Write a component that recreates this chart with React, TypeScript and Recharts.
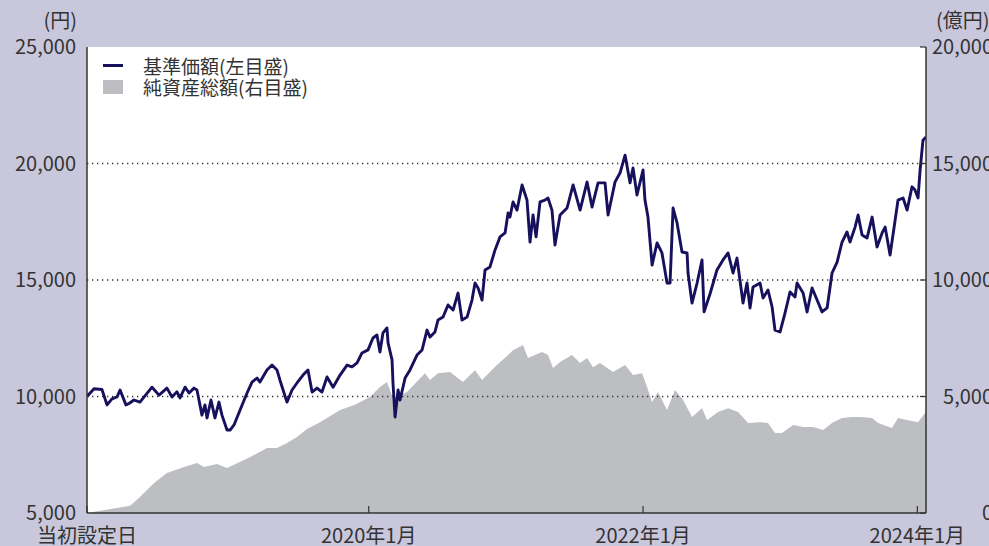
import React from 'react';
import { ComposedChart, Line, Area, XAxis, YAxis, CartesianGrid, ReferenceLine } from 'recharts';

// 基準価額 (円) — dates as decimal years
const navDates = [
  2017.946, 2017.997, 2018.055, 2018.092, 2018.128, 2018.165, 2018.187, 2018.230, 2018.252, 2018.289,
  2018.332, 2018.420, 2018.471, 2018.529, 2018.566, 2018.602, 2018.624, 2018.661, 2018.690, 2018.726,
  2018.748, 2018.784, 2018.806, 2018.821, 2018.850, 2018.879, 2018.908, 2018.930, 2018.967, 2018.989,
  2019.018, 2019.062, 2019.113, 2019.149, 2019.186, 2019.207, 2019.258, 2019.295, 2019.331, 2019.353,
  2019.404, 2019.441, 2019.477, 2019.521, 2019.557, 2019.587, 2019.623, 2019.659, 2019.696, 2019.740,
  2019.791, 2019.842, 2019.878, 2019.915, 2019.951, 2019.995, 2020.031, 2020.060, 2020.082, 2020.104,
  2020.133, 2020.141, 2020.170, 2020.177, 2020.192, 2020.214, 2020.228, 2020.265, 2020.301, 2020.352,
  2020.389, 2020.425, 2020.447, 2020.483, 2020.505, 2020.542, 2020.578, 2020.615, 2020.651, 2020.680,
  2020.717, 2020.753, 2020.775, 2020.797, 2020.826, 2020.848, 2020.884, 2020.921, 2020.957, 2020.994,
  2021.016, 2021.030, 2021.052, 2021.081, 2021.118, 2021.154, 2021.176, 2021.198, 2021.220, 2021.249,
  2021.285, 2021.307, 2021.336, 2021.358, 2021.395, 2021.446, 2021.490, 2021.541, 2021.592, 2021.628,
  2021.672, 2021.723, 2021.745, 2021.796, 2021.832, 2021.869, 2021.905, 2021.927, 2021.956, 2022.000,
  2022.014, 2022.036, 2022.066, 2022.102, 2022.138, 2022.175, 2022.197, 2022.219, 2022.248, 2022.284,
  2022.321, 2022.328, 2022.357, 2022.394, 2022.430, 2022.445, 2022.488, 2022.539, 2022.583, 2022.620,
  2022.656, 2022.685, 2022.729, 2022.758, 2022.780, 2022.802, 2022.853, 2022.875, 2022.911, 2022.941,
  2022.962, 2022.999, 2023.035, 2023.072, 2023.108, 2023.123, 2023.167, 2023.196, 2023.232, 2023.269,
  2023.305, 2023.342, 2023.378, 2023.415, 2023.451, 2023.487, 2023.509, 2023.546, 2023.568, 2023.597,
  2023.633, 2023.670, 2023.706, 2023.743, 2023.765, 2023.801, 2023.838, 2023.859, 2023.896, 2023.925,
  2023.961, 2023.983, 2024.005, 2024.020, 2024.041, 2024.063,
];
const navValues = [
  10000, 10330, 10300, 9640, 9900, 9980, 10280, 9640, 9700, 9850,
  9760, 10400, 10060, 10360, 9980, 10200, 9940, 10400, 10150, 10360,
  10280, 9200, 9640, 9080, 9850, 9080, 9760, 9200, 8560, 8560,
  8780, 9420, 10150, 10620, 10790, 10620, 11140, 11350, 11140, 10700,
  9760, 10280, 10580, 10920, 11140, 10190, 10360, 10190, 10840, 10400,
  10920, 11350, 11270, 11440, 11870, 12000, 12510, 12640, 11910, 12730,
  12940, 12300, 11570, 10580, 9120, 10280, 9850, 10790, 11140, 11780,
  12000, 12850, 12550, 12770, 13280, 13410, 13930, 13710, 14440, 13280,
  13410, 14140, 14870, 14660, 14140, 15430, 15560, 16290, 16850, 17020,
  17880, 17700, 18350, 18000, 19080, 18430, 16630, 17790, 16850, 18350,
  18430, 18520, 18000, 16500, 17790, 18090, 19080, 18000, 19210, 18130,
  19170, 19170, 17790, 19210, 19590, 20360, 19170, 19810, 18650, 19720,
  18430, 17700, 15640, 16590, 16160, 14870, 14870, 18090, 17450, 16200,
  16160, 15300, 14010, 14870, 15860, 13630, 14400, 15430, 15860, 16160,
  15300, 15940, 14010, 14870, 13800, 14700, 14870, 14230, 14570, 13840,
  12850, 12770, 13580, 14490, 14270, 14870, 14440, 13630, 14660, 14140,
  13630, 13800, 15300, 15770, 16630, 17060, 16630, 17270, 17790, 16930,
  16800, 17700, 16420, 17020, 17270, 16070, 17570, 18430, 18520, 18000,
  19000, 18860, 18520, 19720, 21000, 21140,
];

// 純資産総額 (億円)
const aumDates = [
  2017.946, 2018.260, 2018.332, 2018.435, 2018.529, 2018.653, 2018.748, 2018.799, 2018.894, 2018.967,
  2019.091, 2019.164, 2019.258, 2019.331, 2019.404, 2019.477, 2019.550, 2019.645, 2019.791, 2019.900,
  2020.009, 2020.082, 2020.133, 2020.177, 2020.279, 2020.410, 2020.447, 2020.505, 2020.593, 2020.687,
  2020.775, 2020.826, 2020.884, 2020.935, 2021.016, 2021.052, 2021.125, 2021.161, 2021.212, 2021.264,
  2021.307, 2021.344, 2021.395, 2021.482, 2021.541, 2021.592, 2021.635, 2021.686, 2021.781, 2021.869,
  2021.927, 2021.993, 2022.029, 2022.066, 2022.109, 2022.175, 2022.233, 2022.292, 2022.357, 2022.430,
  2022.467, 2022.547, 2022.620, 2022.693, 2022.766, 2022.853, 2022.911, 2022.962, 2023.013, 2023.094,
  2023.167, 2023.240, 2023.313, 2023.385, 2023.451, 2023.524, 2023.582, 2023.670, 2023.713, 2023.815,
  2023.859, 2023.925, 2024.005, 2024.056, 2024.063,
];
const aumValues = [
  0, 310, 690, 1290, 1720, 1970, 2150, 1970, 2100, 1930,
  2270, 2490, 2790, 2790, 3000, 3260, 3600, 3900, 4420, 4650,
  4980, 5410, 5620, 4930, 5190, 6000, 5710, 6000, 6050, 5620,
  6130, 5710, 6050, 6350, 6780, 6990, 7210, 6650, 6780, 6910,
  6780, 6220, 6480, 6780, 6440, 6650, 6260, 6440, 6050, 6350,
  5920, 6000, 5410, 4760, 5190, 4420, 5280, 4850, 4120, 4500,
  3990, 4330, 4500, 4330, 3860, 3900, 3860, 3430, 3430, 3780,
  3690, 3690, 3560, 3900, 4080, 4120, 4120, 4080, 3860, 3650,
  4080, 3990, 3900, 4290, 4290,
];

const xDomain = [2017.946, 2024.063];
const xTicks = [2017.946, 2020, 2022, 2024];
const xTickLabels = ['当初設定日', '2020年1月', '2022年1月', '2024年1月'];
const leftTicks = [5000, 10000, 15000, 20000, 25000];
const rightTicks = [0, 5000, 10000, 15000, 20000];
const gridValues = [10000, 15000, 20000];
const seriesNames = ['基準価額(左目盛)', '純資産総額(右目盛)'];
const unitLabels = ['(円)', '(億円)'];

const navData = navDates.map((t, i) => ({ t, nav: navValues[i] }));
const aumData = aumDates.map((t, i) => ({ t, aum: aumValues[i] }));

const W = 989;
const H = 546;
const BG = '#c9c7dc';
const NAVY = '#17105c';
const GRAY = '#bdbec2';
const TXT = '#333333';
const FONT = '"Noto Sans CJK JP", "Noto Sans", sans-serif';

const fmt = (v: number) => v.toLocaleString('en-US');

export default function App() {
  return (
    <div style={{ position: 'absolute', left: 0, top: 0, width: W, height: H, background: BG, fontFamily: FONT, color: TXT, overflow: 'hidden' }}>
      <ComposedChart width={W} height={H} margin={{ top: 47, right: 0, bottom: 0, left: 0 }}>
        <CartesianGrid fill="#ffffff" horizontal={false} vertical={false} />
        <XAxis
          xAxisId="b"
          type="number"
          dataKey="t"
          domain={xDomain}
          ticks={xTicks}
          tickFormatter={(v: number) => xTickLabels[xTicks.indexOf(v)] ?? ''}
          height={33}
          tickSize={-7}
          tickMargin={23}
          interval={0}
          allowDataOverflow
          axisLine={{ stroke: TXT, strokeWidth: 1.5 }}
          tickLine={{ stroke: TXT, strokeWidth: 1.2 }}
          tick={{ fill: TXT, fontSize: 20, fontFamily: FONT }}
        />
        <XAxis
          xAxisId="top"
          orientation="top"
          type="number"
          dataKey="t"
          domain={xDomain}
          height={0}
          tick={false}
          tickLine={false}
          allowDataOverflow
          axisLine={{ stroke: TXT, strokeWidth: 1.5 }}
        />
        <YAxis
          yAxisId="left"
          orientation="left"
          width={87}
          domain={[5000, 25000]}
          ticks={leftTicks}
          tickFormatter={fmt}
          tickSize={0}
          tickMargin={11}
          interval={0}
          allowDataOverflow
          axisLine={{ stroke: TXT, strokeWidth: 1.5 }}
          tickLine={false}
          tick={{ fill: TXT, fontSize: 20, fontFamily: FONT }}
        />
        <YAxis
          yAxisId="right"
          orientation="right"
          width={63}
          domain={[0, 20000]}
          ticks={rightTicks}
          tickFormatter={fmt}
          tickSize={-6}
          tickMargin={73}
          interval={0}
          allowDataOverflow
          axisLine={{ stroke: TXT, strokeWidth: 1.5 }}
          tickLine={{ stroke: TXT, strokeWidth: 1.2 }}
          tick={{ fill: TXT, fontSize: 20, fontFamily: FONT, textAnchor: 'end' }}
        />
        <Area
          data={aumData}
          xAxisId="b"
          yAxisId="right"
          dataKey="aum"
          name={seriesNames[1]}
          type="linear"
          stroke="none"
          fill={GRAY}
          fillOpacity={1}
          isAnimationActive={false}
        />
        {gridValues.map((g) => (
          <ReferenceLine key={g} xAxisId="b" yAxisId="left" y={g} stroke={TXT} strokeWidth={1.3} strokeDasharray="1.3 3.7" />
        ))}
        <Line
          data={navData}
          xAxisId="b"
          yAxisId="left"
          dataKey="nav"
          name={seriesNames[0]}
          type="linear"
          stroke={NAVY}
          strokeWidth={2.9}
          strokeLinejoin="round"
          dot={false}
          activeDot={false}
          isAnimationActive={false}
        />
      </ComposedChart>
      <div style={{ position: 'absolute', right: W - 77, top: 8, fontSize: 20, lineHeight: '24px', whiteSpace: 'nowrap' }}>{unitLabels[0]}</div>
      <div style={{ position: 'absolute', left: 936, top: 8, fontSize: 20, lineHeight: '24px', whiteSpace: 'nowrap' }}>{unitLabels[1]}</div>
      <div style={{ position: 'absolute', left: 103, top: 55, fontSize: 19, lineHeight: '21px' }}>
        <div style={{ display: 'flex', alignItems: 'center', height: 21 }}>
          <span style={{ display: 'inline-block', width: 20, height: 2.5, background: NAVY, marginRight: 20 }} />
          <span>{seriesNames[0]}</span>
        </div>
        <div style={{ display: 'flex', alignItems: 'center', height: 21 }}>
          <span style={{ display: 'inline-block', width: 20, height: 14, background: GRAY, marginRight: 20 }} />
          <span>{seriesNames[1]}</span>
        </div>
      </div>
    </div>
  );
}
